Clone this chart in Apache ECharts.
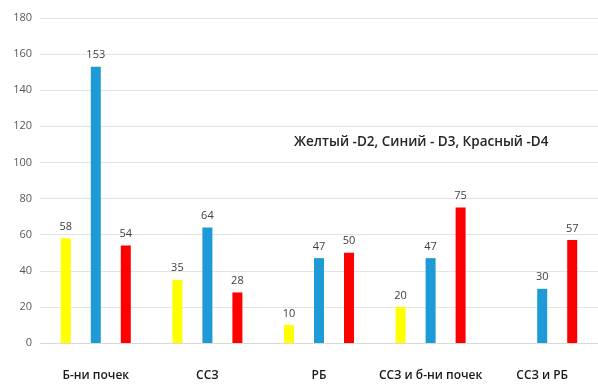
<!DOCTYPE html>
<html>
<head>
<meta charset="utf-8">
<script src="https://cdn.jsdelivr.net/npm/echarts@6/dist/echarts.min.js"></script>
<style>
  html, body { margin: 0; padding: 0; background: #fff; }
  #chart { width: 598px; height: 385px; }
</style>
</head>
<body>
<div id="chart"></div>
<script>
// Categories and values per series (D2 yellow, D3 blue, D4 red)
const categories = ['Б-ни почек', 'ССЗ', 'РБ', 'ССЗ и б-ни почек', 'ССЗ и РБ'];
const seriesNames = ['D2', 'D3', 'D4'];
const valuesD2 = [58, 35, 10, 20, null];
const valuesD3 = [153, 64, 47, 47, 30];
const valuesD4 = [54, 28, 50, 75, 57];
const colors = ['#FFFF00', '#1E9AD6', '#FF0000'];
const yTicks = { min: 0, max: 180, step: 20 };
const noteText = 'Желтый -D2, Синий - D3, Красный -D4';

const font = '"Open Sans", "DejaVu Sans", sans-serif';
const chart = echarts.init(document.getElementById('chart'));

const makeSeries = (name, data, color) => ({
  name,
  type: 'bar',
  data,
  barWidth: 10,
  barGap: '200%',
  itemStyle: { color },
  label: {
    show: true,
    position: 'top',
    distance: 6,
    color: '#404040',
    fontFamily: font,
    fontSize: 11
  }
});

chart.setOption({
  animation: false,
  backgroundColor: '#fff',
  title: {
    text: noteText,
    left: 289,
    top: 130,
    textStyle: { fontFamily: font, fontSize: 13.5, fontWeight: 600, color: '#262626' }
  },
  grid: { left: 40, right: 0, top: 18, bottom: 42 },
  xAxis: {
    type: 'category',
    data: categories,
    axisLine: { lineStyle: { color: '#D9D9D9' } },
    axisTick: { show: false },
    axisLabel: {
      margin: 27,
      color: '#1a1a1a',
      fontFamily: font,
      fontSize: 12,
      fontWeight: 600,
      interval: 0
    }
  },
  yAxis: {
    type: 'value',
    min: yTicks.min,
    max: yTicks.max,
    interval: yTicks.step,
    axisLine: { show: false },
    axisTick: { show: false },
    splitLine: { lineStyle: { color: '#E3E3E3' } },
    axisLabel: { color: '#595959', fontFamily: font, fontSize: 11, margin: 8 }
  },
  series: [
    makeSeries(seriesNames[0], valuesD2, colors[0]),
    makeSeries(seriesNames[1], valuesD3, colors[1]),
    makeSeries(seriesNames[2], valuesD4, colors[2])
  ]
});
</script>
</body>
</html>
